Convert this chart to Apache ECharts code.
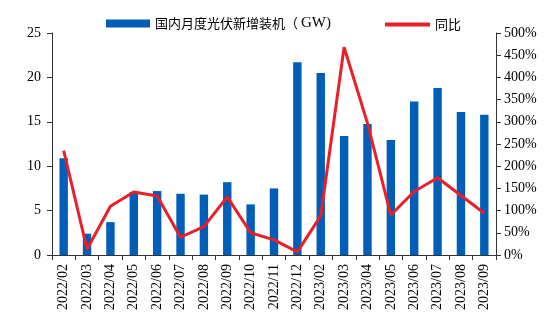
<!DOCTYPE html>
<html><head><meta charset="utf-8">
<script src="https://cdn.jsdelivr.net/npm/echarts@6/dist/echarts.min.js"></script>
<style>html,body{margin:0;padding:0;background:#fff}#c{width:556px;height:329px}</style>
</head><body><div id="c"></div>
<script>
const categories = ['2022/02','2022/03','2022/04','2022/05','2022/06','2022/07','2022/08','2022/09','2022/10','2022/11','2022/12','2023/02','2023/03','2023/04','2023/05','2023/06','2023/07','2023/08','2023/09'];
const installed = [10.9,2.4,3.7,7.1,7.2,6.9,6.8,8.2,5.7,7.5,21.7,20.5,13.4,14.75,12.95,17.3,18.8,16.1,15.8];
const yoy = [235,13,110,142,133,40,64,131,50,34,7,88,468,297,90,143,174,134,94];
const barName = '国内月度光伏新增装机（GW）';
const lineName = '同比';

const serif = '"Liberation Serif","Times New Roman",serif';
const cjk = '"Noto Sans CJK SC",sans-serif';
const axisCol = '#333';
const chart = echarts.init(document.getElementById('c'));
chart.setOption({
  animation: false,
  legend: [
    {top: 11, left: 101, itemWidth: 44, itemHeight: 8, itemGap: 5,
     textStyle: {fontFamily: cjk, fontSize: 13, color: '#000',
       rich: {c: {fontFamily: cjk, fontSize: 13, color: '#000'},
              s: {fontFamily: serif, fontSize: 15, color: '#000'}}},
     formatter: function (n) {
       const m = n.match(/^(.*)（(.*)）$/);
       return m ? '{c|' + m[1] + '（ }{s|' + m[2] + ')}' : n;
     },
     data: [{name: barName, icon: 'rect'}]},
    {top: 13, left: 380, itemWidth: 45, itemHeight: 4, itemGap: 5,
     textStyle: {fontFamily: cjk, fontSize: 13, color: '#000'},
     data: [{name: lineName, icon: 'rect'}]}
  ],
  grid: {left: 52, right: 60, top: 33, bottom: 74},
  xAxis: {
    type: 'category', data: categories,
    axisLine: {lineStyle: {color: axisCol}},
    axisTick: {show: true, length: 5, lineStyle: {color: axisCol}},
    axisLabel: {rotate: 90, interval: 0, fontFamily: serif, fontSize: 14, color: '#000', margin: 9}
  },
  yAxis: [
    {type: 'value', min: 0, max: 25, interval: 5, splitLine: {show: false},
     axisLine: {show: true, lineStyle: {color: axisCol}},
     axisTick: {show: true, length: 5, lineStyle: {color: axisCol}},
     axisLabel: {fontFamily: serif, fontSize: 14, color: '#000', margin: 11}},
    {type: 'value', min: 0, max: 500, interval: 50, splitLine: {show: false},
     axisLine: {show: true, lineStyle: {color: axisCol}},
     axisTick: {show: true, length: 5, lineStyle: {color: axisCol}},
     axisLabel: {fontFamily: serif, fontSize: 14, color: '#000', margin: 8, formatter: '{value}%'}}
  ],
  series: [
    {name: barName, type: 'bar', data: installed, barWidth: '36%',
     itemStyle: {color: '#005EB8'}},
    {name: lineName, type: 'line', yAxisIndex: 1, data: yoy, symbol: 'none',
     lineStyle: {color: '#E8202A', width: 3}, itemStyle: {color: '#E8202A'}}
  ]
});
</script></body></html>
